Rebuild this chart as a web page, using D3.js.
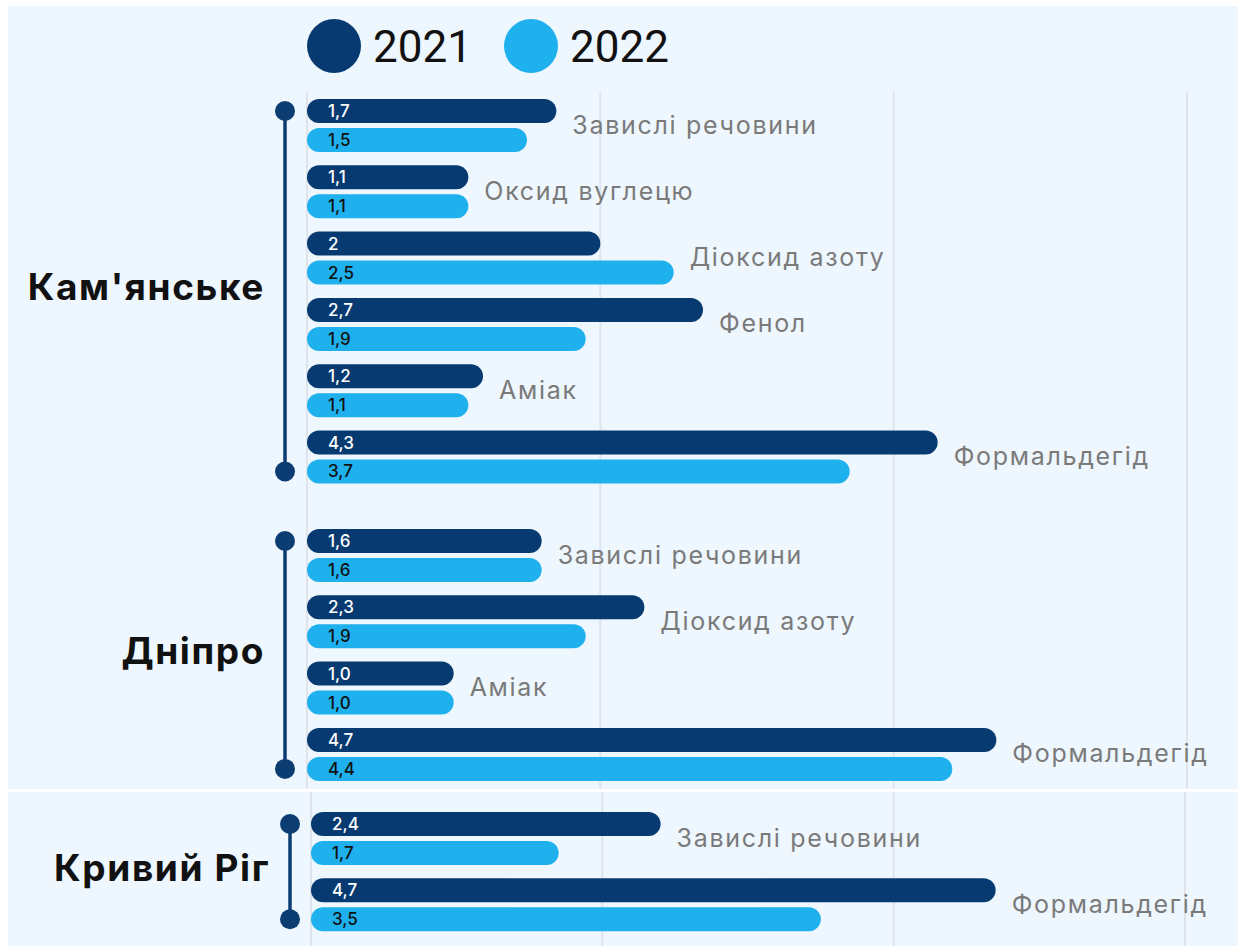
<!DOCTYPE html>
<html>
<head>
<meta charset="utf-8">
<script src="https://cdn.jsdelivr.net/npm/d3@7/dist/d3.min.js"></script>
<style>
  html, body { margin: 0; padding: 0; background: #ffffff; }
  svg { display: block; font-family: Inter, "Noto Sans", sans-serif; }
</style>
</head>
<body>
<svg id="chart" width="1238" height="946"></svg>
<script>
// Emission indices by city, 2021 vs 2022 (labels as printed, values parsed from them)
const years = ["2021", "2022"];
const cities = ["Кам'янське", "Дніпро", "Кривий Ріг"];

const kamPollutants = ["Завислі речовини", "Оксид вуглецю", "Діоксид азоту", "Фенол", "Аміак", "Формальдегід"];
const kam2021 = ["1,7", "1,1", "2", "2,7", "1,2", "4,3"];
const kam2022 = ["1,5", "1,1", "2,5", "1,9", "1,1", "3,7"];

const dniproPollutants = ["Завислі речовини", "Діоксид азоту", "Аміак", "Формальдегід"];
const dnipro2021 = ["1,6", "2,3", "1,0", "4,7"];
const dnipro2022 = ["1,6", "1,9", "1,0", "4,4"];

const kryvyiPollutants = ["Завислі речовини", "Формальдегід"];
const kryvyi2021 = ["2,4", "4,7"];
const kryvyi2022 = ["1,7", "3,5"];

const gridTicks = [0, 2, 4, 6];

const toNum = s => +s.replace(",", ".");

const groups = [
  { city: cities[0], names: kamPollutants, a: kam2021, b: kam2022 },
  { city: cities[1], names: dniproPollutants, a: dnipro2021, b: dnipro2022 },
  { city: cities[2], names: kryvyiPollutants, a: kryvyi2021, b: kryvyi2022 }
];

// Layout
const colors = { "2021": "#063a70", "2022": "#1fb0ee" };
const rowStep = 66.3;
const groupTops = [99, 529, 812];
const axisX = [307, 307, 311];
const axisEnd = [1187, 1187, 1185];
const bracketX = [285, 285, 290];
const labelEndX = [265, 265, 270];

const svg = d3.select("#chart");

// Panels
svg.append("rect").attr("x", 8).attr("y", 6).attr("width", 1230).attr("height", 783).attr("fill", "#eef6fe");
svg.append("rect").attr("x", 8).attr("y", 792).attr("width", 1230).attr("height", 154).attr("fill", "#eef6fe");

// Grid lines
const xTop = d3.scaleLinear().domain([0, 6]).range([axisX[0], axisEnd[0]]);
const xBottom = d3.scaleLinear().domain([0, 6]).range([axisX[2], axisEnd[2]]);
svg.append("g").selectAll("line").data(gridTicks).join("line")
  .attr("x1", d => xTop(d)).attr("x2", d => xTop(d))
  .attr("y1", 92).attr("y2", 789)
  .attr("stroke", "#dfe4ec").attr("stroke-width", 2);
svg.append("g").selectAll("line").data(gridTicks).join("line")
  .attr("x1", d => xBottom(d)).attr("x2", d => xBottom(d))
  .attr("y1", 792).attr("y2", 946)
  .attr("stroke", "#dfe4ec").attr("stroke-width", 2);

// Legend
const legend = svg.append("g");
const legendX = d3.scalePoint().domain(years).range([334, 531]);
legend.selectAll("circle").data(years).join("circle")
  .attr("cx", d => legendX(d)).attr("cy", 46).attr("r", 27)
  .attr("fill", d => colors[d]);
legend.selectAll("text").data(years).join("text")
  .attr("x", d => legendX(d) + 39).attr("y", 62)
  .attr("font-size", 44).attr("fill", "#111").attr("font-family", "Roboto, Inter, sans-serif")
  .text(d => d);

groups.forEach((g, gi) => {
  const x = d3.scaleLinear().domain([0, 6]).range([axisX[gi], axisEnd[gi]]);
  const y = d3.scaleBand().domain(g.names)
    .range([groupTops[gi], groupTops[gi] + g.names.length * rowStep]).padding(0);
  const yy = d3.scaleBand().domain(years).range([0, 53]).paddingInner(0.1724).paddingOuter(0);
  const bh = yy.bandwidth();

  const rows = g.names.map((n, i) => ({
    name: n,
    bars: [
      { year: "2021", label: g.a[i], value: toNum(g.a[i]) },
      { year: "2022", label: g.b[i], value: toNum(g.b[i]) }
    ]
  }));

  const grp = svg.append("g");

  // Bracket with end dots
  const yTopDot = y(g.names[0]) + yy("2021") + bh / 2;
  const yBotDot = y(g.names[g.names.length - 1]) + yy("2022") + bh / 2;
  grp.append("line")
    .attr("x1", bracketX[gi]).attr("x2", bracketX[gi])
    .attr("y1", yTopDot).attr("y2", yBotDot)
    .attr("stroke", "#0b3d73").attr("stroke-width", 3.5);
  grp.selectAll("circle.dot").data([yTopDot, yBotDot]).join("circle")
    .attr("class", "dot")
    .attr("cx", bracketX[gi]).attr("cy", d => d).attr("r", 10)
    .attr("fill", "#0b3d73");

  // City label
  grp.append("text")
    .attr("x", labelEndX[gi]).attr("y", (yTopDot + yBotDot) / 2 + 9)
    .attr("text-anchor", "end")
    .attr("font-size", 37).attr("font-weight", 700).attr("fill", "#111")
    .attr("letter-spacing", 1.6)
    .text(g.city);

  const row = grp.selectAll("g.row").data(rows).join("g")
    .attr("class", "row")
    .attr("transform", d => `translate(0,${y(d.name)})`);

  row.selectAll("rect").data(d => d.bars).join("rect")
    .attr("x", x(0)).attr("y", d => yy(d.year))
    .attr("width", d => x(d.value) - x(0)).attr("height", bh)
    .attr("rx", bh / 2).attr("ry", bh / 2)
    .attr("fill", d => colors[d.year]);

  row.selectAll("text.val").data(d => d.bars).join("text")
    .attr("class", "val")
    .attr("x", x(0) + 21).attr("y", d => yy(d.year) + bh / 2 + 6)
    .attr("font-size", 17).attr("font-weight", 500)
    .attr("fill", d => d.year === "2021" ? "#ffffff" : "#111111")
    .text(d => d.label);

  row.append("text")
    .attr("class", "cat")
    .attr("x", d => x(d3.max(d.bars, b => b.value)) + 16)
    .attr("y", 53 / 2 + 8)
    .attr("font-size", 25).attr("fill", "#7a7a7a")
    .attr("letter-spacing", 1.7)
    .text(d => d.name);
});
</script>
</body>
</html>
